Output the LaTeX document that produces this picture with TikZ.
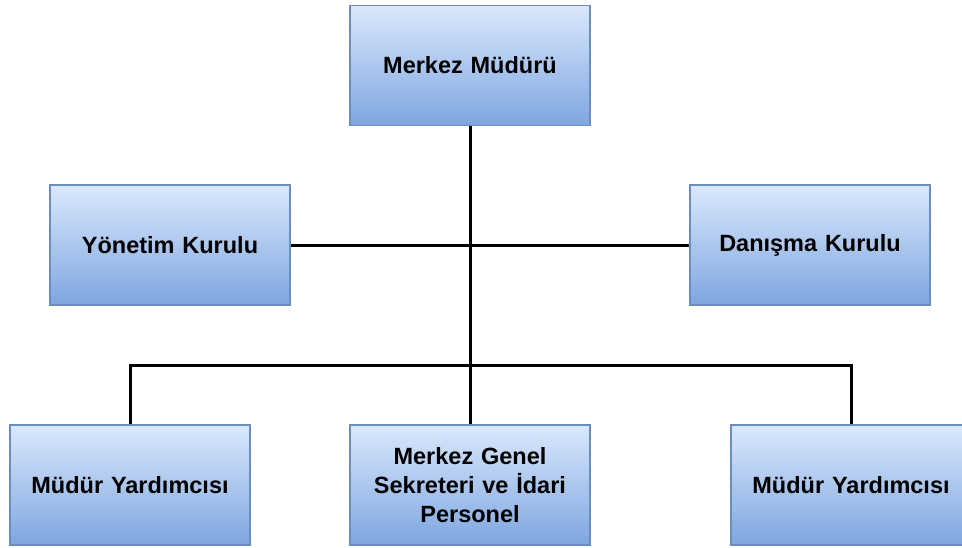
\documentclass[tikz,border=0pt]{standalone}
\usepackage{fontspec}
\setmainfont{Liberation Sans}
\definecolor{boxtop}{HTML}{DAE8FC}
\definecolor{boxbot}{HTML}{7EA6E0}
\definecolor{boxline}{HTML}{6C8EBF}
\begin{document}
\begin{tikzpicture}[x=1pt,y=-1pt,
  orgbox/.style={draw=boxline, line width=1.6pt, top color=boxtop, bottom color=boxbot,
    minimum width=240pt, minimum height=120pt, inner sep=0pt, align=center,
    font=\fontsize{23.5}{29}\selectfont\bfseries, text width=236pt},
  conn/.style={line width=3pt, black}]
\useasboundingbox (0,0) rectangle (962,547);
\node[orgbox] (mm) at (470,65.5) {Merkez Müdürü};
\node[orgbox] (yk) at (170,245) {Yönetim Kurulu};
\node[orgbox] (dk) at (810,245) {Danışma Kurulu};
\node[orgbox] (my1) at (130,485) {Müdür Yardımcısı};
\node[orgbox] (mg) at (470,485) {Merkez Genel\\Sekreteri ve İdari\\Personel};
\node[orgbox] (my2) at (851,485) {Müdür Yardımcısı};
\coordinate (j) at (470,365);
\draw[conn] (mm.south) -- (mg.north);
\draw[conn] (yk.east) -- (dk.west);
\draw[conn] (my1.north) -- (my1.north |- j) -- (my2.north |- j) -- (my2.north);
\end{tikzpicture}
\end{document}
